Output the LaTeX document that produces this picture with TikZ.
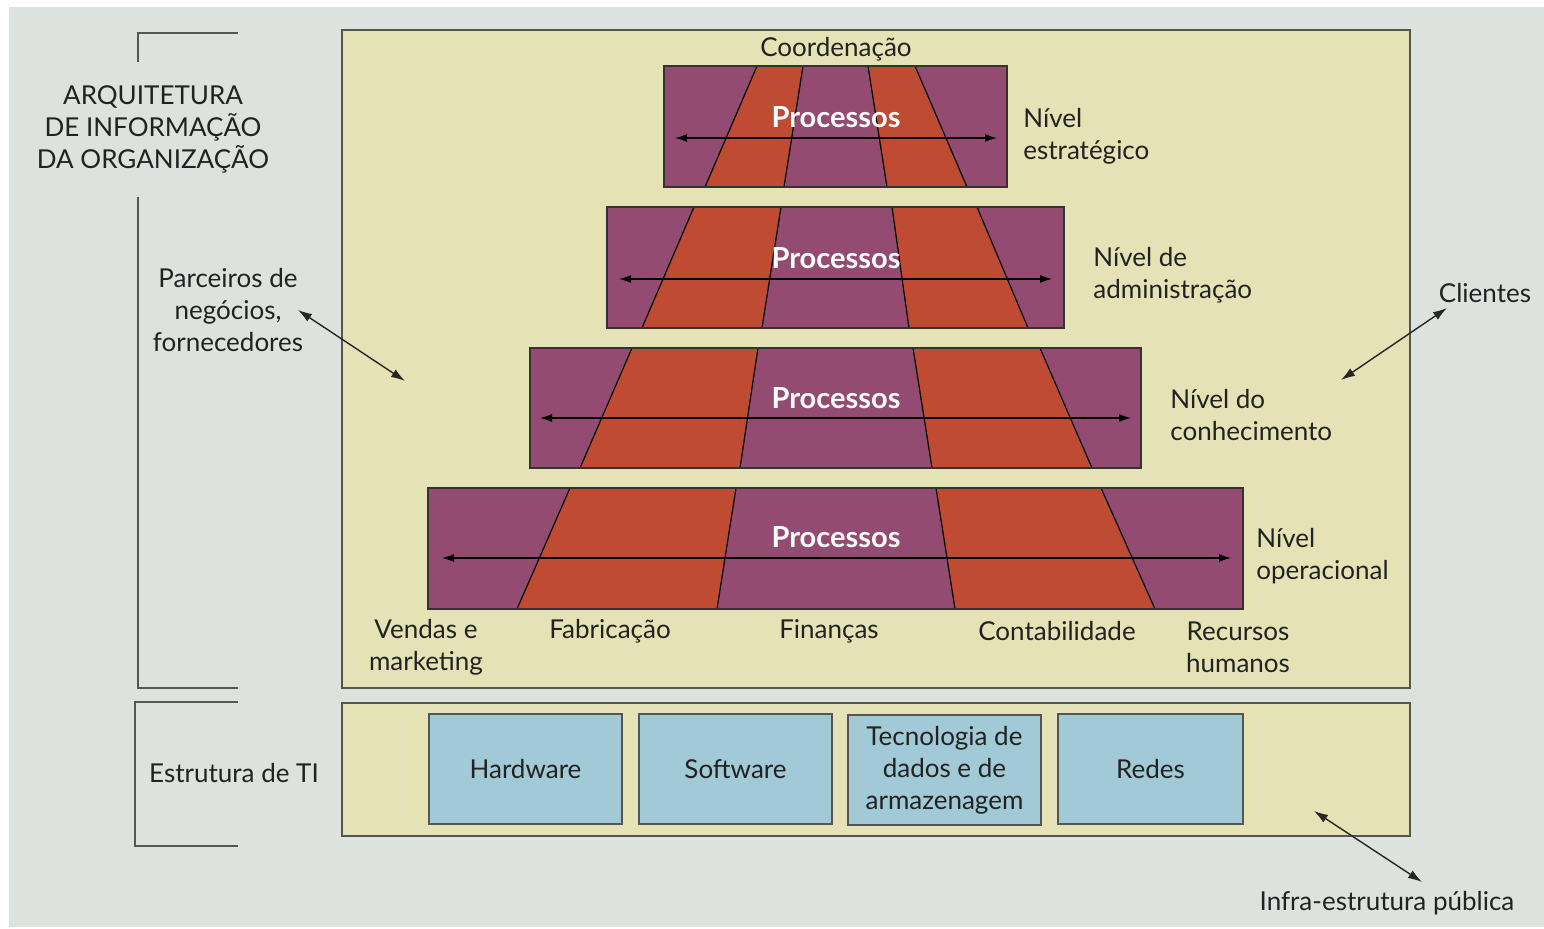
\documentclass[tikz,border=0pt]{standalone}
\usepackage{fontspec}
\setmainfont{Lato}
\usetikzlibrary{arrows.meta}
\definecolor{bggray}{HTML}{DDE2DE}
\definecolor{panel}{HTML}{E5E2B5}
\definecolor{purp}{HTML}{934B72}
\definecolor{oran}{HTML}{BE4B32}
\definecolor{boxblue}{HTML}{A2C9D6}
\definecolor{txt}{HTML}{222222}
\definecolor{edge}{HTML}{555555}
\tikzset{
  lbl/.style={text=txt, font=\fontsize{13}{16}\selectfont, inner sep=0pt},
  proc/.style={text=white, font=\fontsize{14.5}{16}\selectfont\bfseries, inner sep=0pt},
  panelbox/.style={fill=panel, draw=edge, line width=1pt},
  lvlborder/.style={draw=black!80, line width=0.7pt},
  sep/.style={draw=black, line width=0.6pt},
  flow/.style={draw=black, line width=0.6pt, {Latex[length=6pt,width=4pt]}-{Latex[length=6pt,width=4pt]}},
  link/.style={draw=black!85, line width=0.7pt, {Latex[length=7pt,width=4.5pt]}-{Latex[length=7pt,width=4.5pt]}},
  bracket/.style={draw=edge, line width=1pt},
  itbox/.style={fill=boxblue, draw=edge, line width=0.8pt, minimum width=96.5pt, minimum height=55pt, text=txt, align=center, font=\fontsize{13}{16}\selectfont, inner sep=0pt}
}
\begin{document}
\begin{tikzpicture}[x=0.5pt, y=-0.5pt]
\useasboundingbox (0,0) rectangle (1544,929);
\fill[white] (0,0) rectangle (1544,929);
\fill[bggray] (9,7) rectangle (1544,927);

% panels
\draw[panelbox] (342,30) rectangle (1410,688);
\draw[panelbox] (342,703) rectangle (1410,836);

% brackets
\draw[bracket] (238,33) -- (138,33) -- (138,62);
\draw[bracket] (138,197) -- (138,688) -- (238,688);
\draw[bracket] (238,702) -- (135,702) -- (135,846) -- (238,846);

% Level 1
\fill[purp] (664,66) rectangle (1007,187);
\fill[oran] (757,66) -- (803,66) -- (784,187) -- (705,187) -- cycle;
\fill[oran] (868,66) -- (915,66) -- (967,187) -- (887,187) -- cycle;
\draw[sep] (757,66) -- (705,187) (803,66) -- (784,187) (868,66) -- (887,187) (915,66) -- (967,187);
\draw[lvlborder] (664,66) rectangle (1007,187);
\coordinate (a1l) at (675,138); \coordinate (a1r) at (997,138);
\draw[flow] (a1l) -- (a1r);
\node[proc] (p1) at (836,117) {Processos};

% Level 2
\fill[purp] (607,207) rectangle (1064,328);
\fill[oran] (694,207) -- (781,207) -- (762,328) -- (642,328) -- cycle;
\fill[oran] (892,207) -- (977,207) -- (1028,328) -- (909,328) -- cycle;
\draw[sep] (694,207) -- (642,328) (781,207) -- (762,328) (892,207) -- (909,328) (977,207) -- (1028,328);
\draw[lvlborder] (607,207) rectangle (1064,328);
\coordinate (a2l) at (619,279); \coordinate (a2r) at (1052,279);
\draw[flow] (a2l) -- (a2r);
\node[proc] (p2) at (836,258) {Processos};

% Level 3
\fill[purp] (530,348) rectangle (1141,468);
\fill[oran] (632,348) -- (758,348) -- (740,468) -- (580,468) -- cycle;
\fill[oran] (913,348) -- (1040,348) -- (1092,468) -- (932,468) -- cycle;
\draw[sep] (632,348) -- (580,468) (758,348) -- (740,468) (913,348) -- (932,468) (1040,348) -- (1092,468);
\draw[lvlborder] (530,348) rectangle (1141,468);
\coordinate (a3l) at (540,418); \coordinate (a3r) at (1131,418);
\draw[flow] (a3l) -- (a3r);
\node[proc] (p3) at (836,398) {Processos};

% Level 4
\fill[purp] (428,488) rectangle (1243,609);
\fill[oran] (570,488) -- (736,488) -- (717,609) -- (517,609) -- cycle;
\fill[oran] (936,488) -- (1101,488) -- (1155,609) -- (955,609) -- cycle;
\draw[sep] (570,488) -- (517,609) (736,488) -- (717,609) (936,488) -- (955,609) (1101,488) -- (1155,609);
\draw[lvlborder] (428,488) rectangle (1243,609);
\coordinate (a4l) at (442,558); \coordinate (a4r) at (1231,558);
\draw[flow] (a4l) -- (a4r);
\node[proc] (p4) at (836,537) {Processos};

% level labels
\node[lbl] (coord) at (836,49) {Coordenação};
\node[lbl, align=left, anchor=west] (n1) at (1023,136) {Nível\\estratégico};
\node[lbl, align=left, anchor=west] (n2) at (1093,275) {Nível de\\administração};
\node[lbl, align=left, anchor=west] (n3) at (1170,415) {Nível do\\conhecimento};
\node[lbl, align=left, anchor=west] (n4) at (1256,556) {Nível\\operacional};

% function labels
\node[lbl, align=center] (f1) at (426,647) {Vendas e\\marketing};
\node[lbl] (f2) at (610,631) {Fabricação};
\node[lbl] (f3) at (829,631) {Finanças};
\node[lbl] (f4) at (1057,631) {Contabilidade};
\node[lbl, align=center] (f5) at (1238,647) {Recursos\\humanos};

% left labels
\node[lbl, align=center] (arq) at (153,129) {ARQUITETURA\\DE INFORMAÇÃO\\DA ORGANIZAÇÃO};
\node[lbl, align=center] (parc) at (228,310) {Parceiros de\\negócios,\\fornecedores};
\node[lbl] (estr) at (234,773) {Estrutura de TI};
\node[lbl] (cli) at (1485,293) {Clientes};
\node[lbl] (infra) at (1387,903) {Infra-estrutura pública};

% IT boxes
\node[itbox] (hw) at (525.5,769) {Hardware};
\node[itbox] (sw) at (735.5,769) {Software};
\node[itbox] (tec) at (944.5,770) {Tecnologia de\\dados e de\\armazenagem};
\node[itbox, minimum width=92.5pt] (red) at (1150.5,769) {Redes};

% external links
\coordinate (parcin) at (405,381);
\coordinate (cliin) at (1341,380);
\coordinate (infrain) at (1314,811);
\draw[link] (298,310) -- (parcin);
\draw[link] (1447,308) -- (cliin);
\draw[link] (1422,882) -- (infrain);
\end{tikzpicture}
\end{document}
